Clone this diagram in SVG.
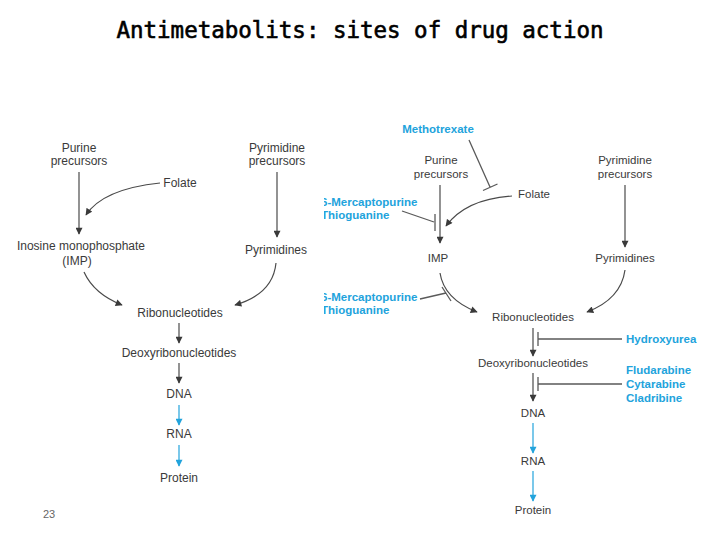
<svg xmlns="http://www.w3.org/2000/svg" width="720" height="540" viewBox="0 0 720 540">
<defs>
<style>
.t{font-family:"Liberation Sans",Arial,sans-serif;fill:#3a3a3a;text-anchor:middle}
.l{font-size:12px}
.r{font-size:11.5px}
.d{font-family:"Liberation Sans",Arial,sans-serif;font-weight:bold;font-size:11.5px;fill:#22a3dc}
.c{fill:none;stroke:#4a4a4a;stroke-width:1.2}
.b{fill:none;stroke:#22a3dc;stroke-width:1.2}
.i{fill:none;stroke:#5a5a5a;stroke-width:1.3}
</style>
<marker id="ah" viewBox="0 0 10 10" refX="9" refY="5" markerWidth="8" markerHeight="7" markerUnits="userSpaceOnUse" orient="auto"><path d="M0,0 L10,5 L0,10 Z" fill="#3a3a3a"/></marker>
<marker id="ab" viewBox="0 0 10 10" refX="9" refY="5" markerWidth="8" markerHeight="7" markerUnits="userSpaceOnUse" orient="auto"><path d="M0,0 L10,5 L0,10 Z" fill="#22a3dc"/></marker>
<clipPath id="cr"><rect x="324" y="100" width="373" height="430"/></clipPath>
</defs>
<rect width="720" height="540" fill="#fff"/>
<text x="360" y="38" font-family="'DejaVu Sans Mono','Liberation Mono',monospace" font-size="22.5" fill="#000" stroke="#000" stroke-width="0.6" text-anchor="middle" textLength="487">Antimetabolits: sites of drug action</text>
<text x="43" y="518" font-family="'Liberation Sans',Arial,sans-serif" font-size="11" fill="#666">23</text>

<g id="left">
<g id="connectors-left">
<path class="c" d="M79,172 L79,234" marker-end="url(#ah)"/>
<path class="c" d="M160,183 Q103,189 86,215" marker-end="url(#ah)"/>
<path class="c" d="M277,172 L277,237" marker-end="url(#ah)"/>
<path class="c" d="M84,272 Q94,294 122,305" marker-end="url(#ah)"/>
<path class="c" d="M276,263 Q273,294 235,305" marker-end="url(#ah)"/>
<path class="c" d="M179,323 L179,343" marker-end="url(#ah)"/>
<path class="c" d="M179,363 L179,383" marker-end="url(#ah)"/>
<path class="b" d="M179,405 L179,425" marker-end="url(#ab)"/>
<path class="b" d="M179,445 L179,466" marker-end="url(#ab)"/>
</g>
<g id="l-purine"><text class="t l" x="79" y="152">Purine</text><text class="t l" x="79" y="165">precursors</text></g>
<g id="l-pyrimidine-prec"><text class="t l" x="277" y="152">Pyrimidine</text><text class="t l" x="277" y="165">precursors</text></g>
<g id="l-folate"><text class="t l" x="180" y="187">Folate</text></g>
<g id="l-imp"><text class="t l" x="81" y="250">Inosine monophosphate</text><text class="t l" x="77" y="265">(IMP)</text></g>
<g id="l-pyrimidines"><text class="t l" x="276" y="254">Pyrimidines</text></g>
<g id="l-ribo"><text class="t l" x="180" y="317">Ribonucleotides</text></g>
<g id="l-deoxy"><text class="t l" x="179" y="357">Deoxyribonucleotides</text></g>
<g id="l-dna"><text class="t l" x="179" y="398">DNA</text></g>
<g id="l-rna"><text class="t l" x="179" y="438">RNA</text></g>
<g id="l-protein"><text class="t l" x="179" y="482">Protein</text></g>
</g>

<g id="right" clip-path="url(#cr)">
<g id="connectors-right">
<path class="c" d="M440,185 L440,243" marker-end="url(#ah)"/>
<path class="c" d="M512,196 Q466,199 446,226" marker-end="url(#ah)"/>
<path class="c" d="M625,185 L625,247" marker-end="url(#ah)"/>
<path class="c" d="M440,273 Q444,299 477,312" marker-end="url(#ah)"/>
<path class="c" d="M625,270 Q621,299 587,312" marker-end="url(#ah)"/>
<path class="c" d="M533,328 L533,356" marker-end="url(#ah)"/>
<path class="c" d="M533,373 L533,401" marker-end="url(#ah)"/>
<path class="b" d="M533,423 L533,453" marker-end="url(#ab)"/>
<path class="b" d="M533,471 L533,501" marker-end="url(#ab)"/>
<path class="i" d="M469,140 L490,187 M483,190.5 L497.5,184"/>
<path class="i" d="M402,211 L434,222 M435,214 L435,231"/>
<path class="i" d="M420,299 L446,293 M442,287 L451,301"/>
<path class="i" d="M538,339 L622,339 M538,332 L538,346"/>
<path class="i" d="M538,384 L622,384 M538,377 L538,391" stroke-width="1.7"/>
</g>
<g id="r-methotrexate"><text class="d" x="438" y="133" text-anchor="middle">Methotrexate</text></g>
<g id="r-purine"><text class="t r" x="441" y="164">Purine</text><text class="t r" x="441" y="178">precursors</text></g>
<g id="r-pyrimidine-prec"><text class="t r" x="625" y="164">Pyrimidine</text><text class="t r" x="625" y="178">precursors</text></g>
<g id="r-folate"><text class="t r" x="534" y="198">Folate</text></g>
<g id="r-mp1"><text class="d" x="321" y="206">6-Mercaptopurine</text><text class="d" x="321" y="219">Thioguanine</text></g>
<g id="r-imp"><text class="t r" x="438" y="262">IMP</text></g>
<g id="r-pyrimidines"><text class="t r" x="625" y="262">Pyrimidines</text></g>
<g id="r-mp2"><text class="d" x="321" y="301">6-Mercaptopurine</text><text class="d" x="321" y="314">Thioguanine</text></g>
<g id="r-ribo"><text class="t r" x="533" y="321">Ribonucleotides</text></g>
<g id="r-hydroxyurea"><text class="d" x="626" y="343">Hydroxyurea</text></g>
<g id="r-deoxy"><text class="t r" x="533" y="367">Deoxyribonucleotides</text></g>
<g id="r-flud"><text class="d" x="626" y="374">Fludarabine</text><text class="d" x="626" y="388">Cytarabine</text><text class="d" x="626" y="402">Cladribine</text></g>
<g id="r-dna"><text class="t r" x="533" y="417">DNA</text></g>
<g id="r-rna"><text class="t r" x="533" y="465">RNA</text></g>
<g id="r-protein"><text class="t r" x="533" y="514">Protein</text></g>
</g>
</svg>
